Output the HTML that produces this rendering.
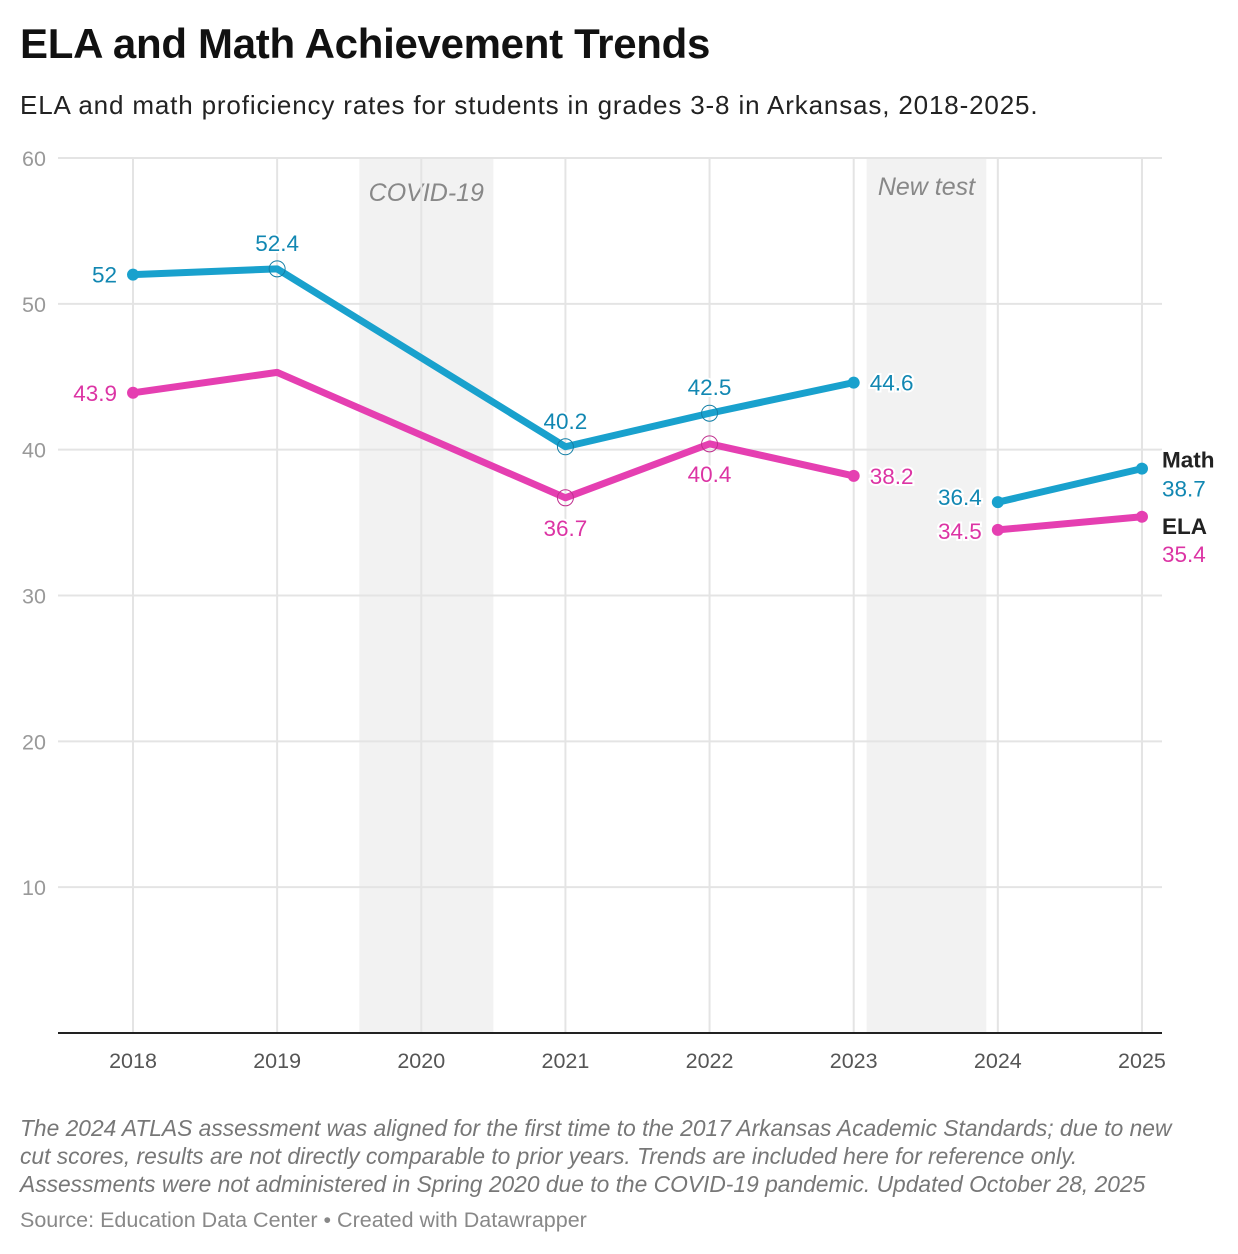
<!DOCTYPE html>
<html><head><meta charset="utf-8"><style>
body{margin:0;background:#fff;font-family:"Liberation Sans",Roboto,sans-serif;}
#wrap{position:relative;width:1238px;height:1254px;}
h1{position:absolute;left:20px;top:20px;margin:0;font-size:42px;font-weight:bold;color:#111;letter-spacing:-0.3px}
.sub{position:absolute;left:20px;top:90px;font-size:26px;letter-spacing:0.85px;color:#222}
.note{position:absolute;left:20px;top:1114px;font-size:22.8px;line-height:28px;color:#777;font-style:italic;width:1180px}
.src{position:absolute;left:20px;top:1208px;font-size:21.5px;color:#888}
</style></head><body><div id="wrap">
<h1>ELA and Math Achievement Trends</h1>
<div class="sub">ELA and math proficiency rates for students in grades 3-8 in Arkansas, 2018-2025.</div>
<svg id="chart" width="1238" height="1254" style="position:absolute;left:0;top:0"></svg>
<div class="note">The 2024 ATLAS assessment was aligned for the first time to the 2017 Arkansas Academic Standards; due to new cut scores, results are not directly comparable to prior years. Trends are included here for reference only. Assessments were not administered in Spring 2020 due to the COVID-19 pandemic. Updated October 28, 2025</div>
<div class="src">Source: Education Data Center • Created with Datawrapper</div>
</div>
<script>
const years=[2018,2019,2020,2021,2022,2023,2024,2025];
const mathVals=[52,52.4,null,40.2,42.5,44.6,36.4,38.7];
const elaVals=[43.9,45.3,null,36.7,40.4,38.2,34.5,35.4];
const mathLabels=["52","52.4","","40.2","42.5","44.6","36.4","38.7"];
const elaLabels=["43.9","","","36.7","40.4","38.2","34.5","35.4"];
const yTicks=[10,20,30,40,50,60];
const NS="http://www.w3.org/2000/svg";
const svg=document.getElementById('chart');
const x=y=>133+(y-2018)*144.14;
const yS=v=>1033-v*14.583;
function mk(t,a){const e=document.createElementNS(NS,t);for(const k in a)e.setAttribute(k,a[k]);svg.appendChild(e);return e;}
[[2019.57,2020.5,'COVID-19'],[2023.09,2023.92,'New test']].forEach((b,i)=>{
 const r=mk('rect',{x:x(b[0]),y:158,width:x(b[1])-x(b[0]),height:875,fill:'#f2f2f2'});
 
 
 const t=mk('text',{x:(x(b[0])+x(b[1]))/2,y:i?195:201,'text-anchor':'middle','font-size':25,'font-style':'italic',fill:'#888'});
 t.textContent=b[2];
 
 
});
yTicks.forEach(v=>{
 const l=mk('line',{x1:58,x2:1162,y1:yS(v),y2:yS(v),stroke:'#e4e4e4','stroke-width':2});
 
 
 const t=mk('text',{x:22,y:yS(v)+8,'font-size':21.5,fill:'#999'});
 t.textContent=v;
 
 
});
years.forEach(y=>{
 const l=mk('line',{x1:x(y),x2:x(y),y1:158,y2:1033,stroke:'#e4e4e4','stroke-width':2});
 
 
 const t=mk('text',{x:x(y),y:1068,'text-anchor':'middle','font-size':21.5,fill:'#555'});
 t.textContent=y;
 
 
});
const ax=mk('line',{x1:58,x2:1162,y1:1033,y2:1033,stroke:'#222','stroke-width':2});


function series(vals,col,name,hollow){
 const segs=[[0,1,3,4,5],[6,7]];
 segs.forEach(s=>{
  const p=mk('polyline',{points:s.map(i=>x(years[i])+','+yS(vals[i])).join(' '),fill:'none',stroke:col,'stroke-width':7,'stroke-linejoin':'round','stroke-linecap':'round'});
  
  
 });
 [0,5,6,7].forEach(i=>{
  const c=mk('circle',{cx:x(years[i]),cy:yS(vals[i]),r:6,fill:col});
  
  
 });
 hollow.forEach(i=>{
  const c=mk('circle',{cx:x(years[i]),cy:yS(vals[i]),r:8,fill:'none',stroke:col==='#19a1cd'?'#137fa6':'#c0308f','stroke-width':1});
  
  
 });
}
series(mathVals,'#19a1cd','math',[1,3,4]);
series(elaVals,'#e53fb1','ela',[3,4]);
function lab(txt,xx,yy,col,anchor,name,bold){
 const t=mk('text',{x:xx,y:yy,'text-anchor':anchor,'font-size':22.5,fill:col,'font-weight':bold?'bold':'normal',stroke:'#fff','stroke-width':4,'paint-order':'stroke'});
 t.textContent=txt;
 
 
}
const MC='#1187b2',EC='#dc34a4';
lab(mathLabels[0],x(2018)-16,yS(mathVals[0])+8,MC,'end','math-value-label');
lab(mathLabels[1],x(2019),yS(mathVals[1])-18,MC,'middle','math-value-label');
lab(mathLabels[3],x(2021),yS(mathVals[3])-18,MC,'middle','math-value-label');
lab(mathLabels[4],x(2022),yS(mathVals[4])-18,MC,'middle','math-value-label');
lab(mathLabels[5],x(2023)+16,yS(mathVals[5])+8,MC,'start','math-value-label');
lab(mathLabels[6],x(2024)-16,yS(mathVals[6])+3,MC,'end','math-value-label');
lab(mathLabels[7],1162,yS(mathVals[7])+28,MC,'start','math-value-label');
lab(elaLabels[0],x(2018)-16,yS(elaVals[0])+8,EC,'end','ela-value-label');
lab(elaLabels[3],x(2021),yS(elaVals[3])+38,EC,'middle','ela-value-label');
lab(elaLabels[4],x(2022),yS(elaVals[4])+38,EC,'middle','ela-value-label');
lab(elaLabels[5],x(2023)+16,yS(elaVals[5])+8,EC,'start','ela-value-label');
lab(elaLabels[6],x(2024)-16,yS(elaVals[6])+9,EC,'end','ela-value-label');
lab(elaLabels[7],1162,yS(elaVals[7])+45,EC,'start','ela-value-label');
lab('Math',1162,yS(mathVals[7])-1,'#222','start','math-legend-label',true);
lab('ELA',1162,yS(elaVals[7])+17,'#222','start','ela-legend-label',true);
</script></body></html>
